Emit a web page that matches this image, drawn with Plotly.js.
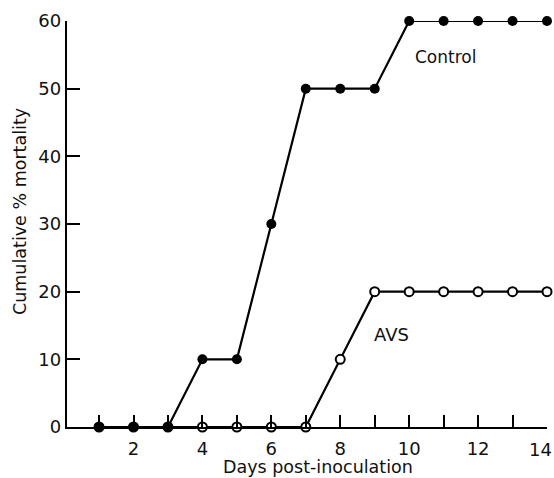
<!DOCTYPE html>
<html>
<head>
<meta charset="utf-8">
<script src="https://cdn.plot.ly/plotly-3.0.1.min.js"></script>
<style>html,body{margin:0;padding:0;background:#fff;}#chart{width:554px;height:478px;}</style>
</head>
<body>
<div id="chart"></div>
<script>
const days = [1,2,3,4,5,6,7,8,9,10,11,12,13,14];
const controlMortality = [0,0,0,10,10,30,50,50,50,60,60,60,60,60];
const avsMortality = [0,0,0,0,0,0,0,10,20,20,20,20,20,20];
const xTickVals = [1,2,3,4,5,6,7,8,9,10,11,12,13,14];
const xTickText = ["","2","","4","","6","","8","","10","","12","","14"];
const yTickVals = [0,10,20,30,40,50,60];
const seriesLabels = ["Control","AVS"];
const xTitle = "Days post-inoculation";
const yTitle = "Cumulative % mortality";

const font = "DejaVu Sans, sans-serif";
const lastIdx = xTickVals.length - 1;
// last tick label drawn as annotation anchored at its tick so it stays inside the page
const shownTickText = xTickText.map((t, i) => i === lastIdx ? "" : t);

const traces = [
  {
    x: days, y: avsMortality, mode: "lines+markers", name: seriesLabels[1],
    line: {color: "#000", width: 2.2},
    marker: {symbol: "circle", size: 9, color: "#fff", line: {color: "#000", width: 2}},
    cliponaxis: false
  },
  {
    x: days, y: controlMortality, mode: "lines+markers", name: seriesLabels[0],
    line: {color: "#000", width: 2.2},
    marker: {symbol: "circle", size: 10, color: "#000"},
    cliponaxis: false
  }
];

const layout = {
  width: 554, height: 478,
  margin: {l: 67, r: 7, t: 21, b: 51},
  paper_bgcolor: "#fff", plot_bgcolor: "#fff",
  showlegend: false,
  font: {family: font, color: "#111", size: 16},
  xaxis: {
    range: [0.07, 14], showgrid: false, zeroline: false,
    showline: true, linecolor: "#000", linewidth: 2.2,
    ticks: "inside", ticklen: 12, tickwidth: 2, tickcolor: "#000",
    tickmode: "array", tickvals: xTickVals, ticktext: shownTickText,
    tickfont: {family: font, size: 18, color: "#111"},
    ticklabelstandoff: 4,
    title: {text: ""}
  },
  yaxis: {
    range: [0, 60], showgrid: false, zeroline: false,
    showline: true, linecolor: "#000", linewidth: 2.2,
    ticks: "inside", ticklen: 13, tickwidth: 2, tickcolor: "#000",
    tickmode: "array", tickvals: yTickVals,
    tickfont: {family: font, size: 18, color: "#111"},
    title: {text: ""}
  },
  annotations: [
    {text: xTickText[lastIdx], xref: "x", yref: "y", x: xTickVals[lastIdx], y: 0,
     xanchor: "right", yanchor: "top", xshift: 7, yshift: -10,
     showarrow: false, font: {family: font, size: 18, color: "#111"}},
    {text: seriesLabels[0], xref: "paper", yref: "paper", x: (445-67)/480, y: (427-57)/406,
     showarrow: false, font: {family: font, size: 17, color: "#111"}, xanchor: "center", yanchor: "middle"},
    {text: seriesLabels[1], xref: "paper", yref: "paper", x: (391-67)/480, y: (427-334)/406,
     showarrow: false, font: {family: font, size: 18, color: "#111"}, xanchor: "center", yanchor: "middle"},
    {text: xTitle, xref: "paper", yref: "paper", x: (318-67)/480, y: (427-467)/406,
     showarrow: false, font: {family: font, size: 17.5, color: "#111"}, xanchor: "center", yanchor: "middle"},
    {text: yTitle, xref: "paper", yref: "paper", x: (20-67)/480, y: (427-212)/406, textangle: -90,
     showarrow: false, font: {family: font, size: 17.5, color: "#111"}, xanchor: "center", yanchor: "middle"}
  ]
};

Plotly.newPlot("chart", traces, layout, {displayModeBar: false, staticPlot: true});
</script>
</body>
</html>
